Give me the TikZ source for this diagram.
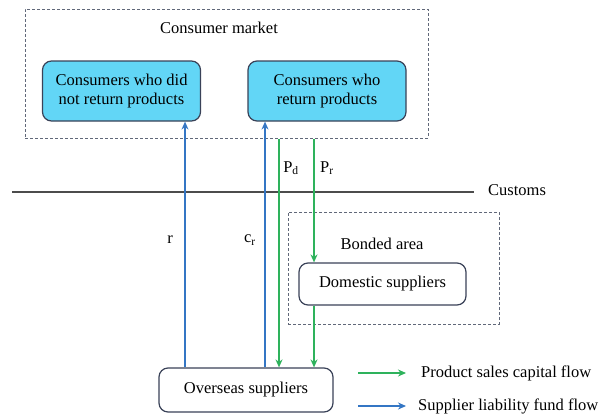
\documentclass[tikz,border=0pt]{standalone}
\usepackage{fontspec}
\setmainfont{Liberation Serif}
\usetikzlibrary{arrows.meta,positioning}

\definecolor{boxfill}{RGB}{98,214,246}
\definecolor{boxline}{RGB}{58,66,88}
\definecolor{blueflow}{RGB}{52,118,196}
\definecolor{greenflow}{RGB}{46,178,92}

\begin{document}
\begin{tikzpicture}[x=1pt,y=-1pt,font=\fontsize{16.5}{19.5}\selectfont,
    every node/.style={inner sep=0pt},
    area/.style={draw=boxline!80,densely dashed,line width=1pt},
    consumer/.style={draw=boxline,fill=boxfill,rounded corners=9pt,line width=1.2pt,
      minimum width=158pt,minimum height=60pt,align=center},
    supplier/.style={draw=boxline,fill=white,rounded corners=9pt,line width=1.2pt,
      minimum height=43pt,align=center},
    bflow/.style={draw=blueflow,line width=1.4pt,-{Stealth[length=8pt,width=7pt]}},
    gflow/.style={draw=greenflow,line width=1.4pt,-{Stealth[length=8pt,width=7pt]}}]
  \useasboundingbox (0,0) rectangle (601,415);

  % areas
  \node[area,minimum width=403pt,minimum height=129pt] (market) at (226.5,73.5) {};
  \node (mlabel) at (219,28) {Consumer market};
  \node[area,minimum width=211pt,minimum height=112pt] (bonded) at (393.5,268) {};
  \node (blabel) at (382,244) {Bonded area};

  % customs line
  \coordinate (cl) at (12,192);
  \coordinate (cr) at (474,192);
  \draw[black!70,line width=1.3pt] (cl) -- (cr);
  \node[anchor=west] (customs) at (488,190) {Customs};

  % nodes
  \node[consumer] (cnr) at (121.5,91) {Consumers who did\\not return products};
  \node[consumer] (crt) at (327,91) {Consumers who\\return products};
  \node[supplier,minimum width=167pt,minimum height=42pt] (dom) at (382.5,284) {Domestic suppliers};
  \node[supplier,minimum width=174pt,minimum height=44pt] (ovs) at (246,390) {Overseas suppliers};

  % flow positions
  \coordinate (xr) at (185,0);
  \coordinate (xc) at (265,0);
  \coordinate (xd) at (279,0);
  \coordinate (xp) at (314,0);

  % flows
  \draw[bflow] (ovs.north -| xr) -- (cnr.south -| xr);
  \draw[bflow] (ovs.north -| xc) -- (crt.south -| xc);
  \draw[gflow] (market.south -| xd) -- (ovs.north -| xd);
  \draw[gflow] (market.south -| xp) -- (dom.north -| xp);
  \draw[gflow] (dom.south -| xp) -- (ovs.north -| xp);

  % labels
  \node (lr) at (170,240) {r};
  \node (lc) at (250,240) {c\textsubscript{r}};
  \node (lpd) at (291,168) {P\textsubscript{d}};
  \node (lpr) at (327,168) {P\textsubscript{r}};

  % legend
  \coordinate (g1) at (358,373);
  \coordinate (g2) at (406,373);
  \coordinate (b1) at (358,406);
  \coordinate (b2) at (406,406);
  \draw[gflow] (g1) -- (g2);
  \draw[bflow] (b1) -- (b2);
  \node[anchor=west] (lg) at (421,373) {Product sales capital flow};
  \node[anchor=west] (lb) at (418,406) {Supplier liability fund flow};
\end{tikzpicture}
\end{document}
